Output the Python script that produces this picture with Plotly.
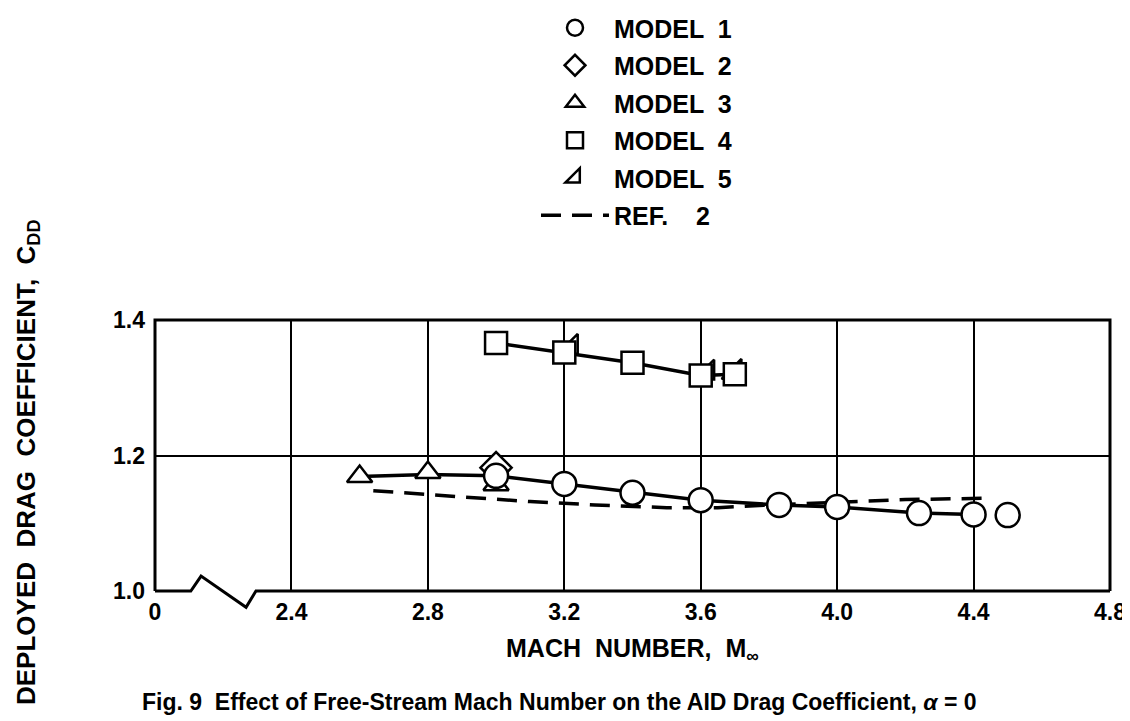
import plotly.graph_objects as go

# ---------------- data ----------------
model1_x = [3.0, 3.2, 3.4, 3.6, 3.83, 4.0, 4.24, 4.4, 4.5]
model1_y = [1.170, 1.158, 1.145, 1.134, 1.127, 1.124, 1.115, 1.113, 1.112]
model2_x = [3.0]
model2_y = [1.182]
model3_x = [2.6, 2.8, 3.0]
model3_y = [1.169, 1.175, 1.157]
model4_x = [3.0, 3.2, 3.4, 3.6, 3.7]
model4_y = [1.366, 1.352, 1.337, 1.318, 1.320]
model5_x = [3.22, 3.62, 3.7]
model5_y = [1.360, 1.322, 1.323]

fair_low_x = [2.6, 2.8, 3.0, 3.2, 3.4, 3.6, 3.83, 4.0, 4.24, 4.4]
fair_low_y = [1.169, 1.172, 1.170, 1.158, 1.145, 1.134, 1.127, 1.124, 1.115, 1.113]
fair_high_x = [3.0, 3.2, 3.4, 3.6, 3.7]
fair_high_y = [1.366, 1.352, 1.337, 1.318, 1.320]

ref2_x = [2.64, 2.88, 3.1, 3.29, 3.5, 3.65, 3.8, 4.0, 4.2, 4.45]
ref2_y = [1.148, 1.139, 1.132, 1.127, 1.123, 1.123, 1.127, 1.131, 1.135, 1.137]

x_ticks = [2.0, 2.4, 2.8, 3.2, 3.6, 4.0, 4.4, 4.8]
x_tick_labels = ["0", "2.4", "2.8", "3.2", "3.6", "4.0", "4.4", "4.8"]
y_ticks = [1.0, 1.2, 1.4]
y_tick_labels = ["1.0", "1.2", "1.4"]

# broken-axis zigzag on the bottom spine (data units)
break_x = [2.0, 2.105, 2.135, 2.267, 2.296, 4.8]
break_y = [1.0, 1.0, 1.022, 0.976, 1.0, 1.0]

X_RANGE = [2.0, 4.8]
Y_RANGE = [1.0, 1.4]

FONT = "Liberation Sans"
W, H = 1130, 721
ML, MR, MT, MB = 147, 28, 312, 138

fig = go.Figure()

line_style = dict(color="black", width=3.5)

fig.add_trace(go.Scatter(x=fair_low_x, y=fair_low_y, mode="lines", line=line_style,
                         showlegend=False, hoverinfo="skip"))
fig.add_trace(go.Scatter(x=fair_high_x, y=fair_high_y, mode="lines", line=line_style,
                         showlegend=False, hoverinfo="skip"))
fig.add_trace(go.Scatter(x=ref2_x, y=ref2_y, mode="lines", name="<b>REF.    2</b>",
                         legendrank=6, legendgroup="r",
                         line=dict(color="black", width=3.5, dash="20px,11px")))

def mk(symbol, size):
    return dict(symbol=symbol, size=size, color="white",
                line=dict(color="black", width=2.5))

fig.add_trace(go.Scatter(x=model3_x, y=model3_y, mode="markers", name="<b>MODEL  3</b>",
                         legendrank=3, legendgroup="m3",
                         marker=mk("triangle-up", 22), cliponaxis=False))
fig.add_trace(go.Scatter(x=model2_x, y=model2_y, mode="markers", name="<b>MODEL  2</b>",
                         legendrank=2, legendgroup="m2",
                         marker=mk("diamond", 24), cliponaxis=False))
fig.add_trace(go.Scatter(x=model1_x, y=model1_y, mode="markers", name="<b>MODEL  1</b>",
                         legendrank=1, legendgroup="m1",
                         marker=mk("circle", 24), cliponaxis=False))
fig.add_trace(go.Scatter(x=model5_x, y=model5_y, mode="markers", name="<b>MODEL  5</b>",
                         legendrank=5, legendgroup="m5",
                         marker=mk("triangle-se", 22), cliponaxis=False))
fig.add_trace(go.Scatter(x=model4_x, y=model4_y, mode="markers", name="<b>MODEL  4</b>",
                         legendrank=4, legendgroup="m4",
                         marker=mk("square", 22), cliponaxis=False))

# frame: left, top, right in paper coords; bottom with zigzag break
def px(v):
    return (v - X_RANGE[0]) / (X_RANGE[1] - X_RANGE[0])

def py(v):
    return (v - Y_RANGE[0]) / (Y_RANGE[1] - Y_RANGE[0])

frame = "M 0,0 L 0,1 L 1,1 L 1,0"
bottom = "M " + " L ".join(f"{px(a):.5f},{py(b):.5f}" for a, b in zip(break_x, break_y))
for p in (frame, bottom):
    fig.add_shape(type="path", path=p, xref="paper", yref="paper",
                  line=dict(color="black", width=3), layer="above")

plot_h = H - MT - MB
plot_w = W - ML - MR

def paper_y(pix):
    return (H - MB - pix) / plot_h

def paper_x(pix):
    return (pix - ML) / plot_w

TICKFONT = dict(family=FONT, size=23, color="black")

fig.update_layout(
    width=W, height=H,
    margin=dict(l=ML, r=MR, t=MT, b=MB, autoexpand=False),
    paper_bgcolor="white", plot_bgcolor="white",
    font=dict(family=FONT, size=24, color="black"),
    xaxis=dict(range=X_RANGE, tickvals=x_ticks,
               ticktext=[f"<b>{t}</b>" for t in x_tick_labels],
               tickfont=TICKFONT, ticklabelstandoff=5,
               showgrid=True, gridcolor="black", gridwidth=2,
               zeroline=False, showline=False, ticks="", ticklen=0),
    yaxis=dict(range=Y_RANGE, tickvals=y_ticks,
               ticktext=[f"<b>{t}</b>" for t in y_tick_labels],
               tickfont=TICKFONT, ticklabelstandoff=9,
               showgrid=True, gridcolor="black", gridwidth=2,
               zeroline=False, showline=False, ticks="", ticklen=0),
    legend=dict(x=paper_x(528), y=paper_y(-3), xref="paper", yref="paper",
                xanchor="left", yanchor="top",
                bgcolor="rgba(0,0,0,0)",
                font=dict(family=FONT, size=25, color="black"),
                itemwidth=68, tracegroupgap=2),
    showlegend=True,
)

fig.add_annotation(text="<b>DEPLOYED  DRAG  COEFFICIENT,  C<sub>DD</sub></b>",
                   textangle=-90, x=paper_x(19), y=paper_y(454), xref="paper", yref="paper",
                   showarrow=False, font=dict(family=FONT, size=26),
                   xanchor="center", yanchor="middle")
fig.add_annotation(text="<b>MACH  NUMBER,  M<sub>∞</sub></b>",
                   x=0.5, y=paper_y(642), xref="paper", yref="paper",
                   showarrow=False, font=dict(family=FONT, size=25),
                   xanchor="center", yanchor="middle")
fig.add_annotation(text="<b>Fig. 9  Effect of Free-Stream Mach Number on the AID Drag Coefficient, <i>α</i> = 0</b>",
                   x=paper_x(132), y=paper_y(694), xref="paper", yref="paper",
                   showarrow=False, font=dict(family=FONT, size=23),
                   xanchor="left", yanchor="middle")

fig.write_html("out.html")
